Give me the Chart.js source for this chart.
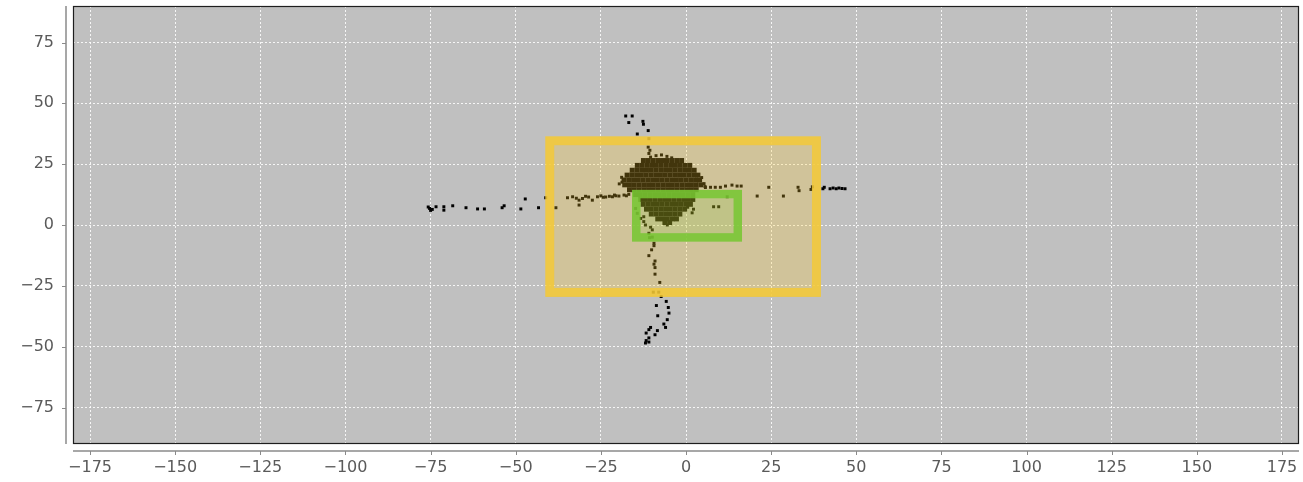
<!DOCTYPE html>
<html>
<head>
<meta charset="utf-8">
<script src="https://cdn.jsdelivr.net/npm/chart.js@4/dist/chart.umd.min.js"></script>
<style>
  html, body { margin: 0; padding: 0; background: #fff; }
  canvas { display: block; }
</style>
</head>
<body>
<canvas id="plot" width="1303" height="482"></canvas>
<script>
const xTicks = [-175, -150, -125, -100, -75, -50, -25, 0, 25, 50, 75, 100, 125, 150, 175];
const yTicks = [-75, -50, -25, 0, 25, 50, 75];
const xRange = [-180, 180];
const yRange = [-90, 90];

// dense cluster just above the origin, read row by row
const clusterPoints = [
  [-12.5, 26.5], [-11.1, 26.5], [-9.7, 26.5], [-8.3, 26.5], [-6.9, 26.5], [-5.5, 26.5], [-4.1, 26.5], [-2.7, 26.5], [-1.3, 26.5],
  [-14.3, 24.5], [-12.9, 24.5], [-11.5, 24.5], [-10.1, 24.5], [-8.7, 24.5], [-7.3, 24.5], [-5.9, 24.5], [-4.5, 24.5], [-3.1, 24.5], [-1.7, 24.5], [-0.3, 24.5], [1.1, 24.5],
  [-15.8, 22.5], [-14.4, 22.5], [-13.0, 22.5], [-11.6, 22.5], [-10.2, 22.5], [-8.8, 22.5], [-7.4, 22.5], [-6.0, 22.5], [-4.6, 22.5], [-3.2, 22.5], [-1.8, 22.5], [-0.4, 22.5], [1.0, 22.5], [2.4, 22.5],
  [-17.3, 20.5], [-15.9, 20.5], [-14.5, 20.5], [-13.1, 20.5], [-11.7, 20.5], [-10.3, 20.5], [-8.9, 20.5], [-7.5, 20.5], [-6.1, 20.5], [-4.7, 20.5], [-3.3, 20.5], [-1.9, 20.5], [-0.5, 20.5], [0.9, 20.5], [2.3, 20.5], [3.5, 20.5],
  [-18.2, 18.5], [-16.8, 18.5], [-15.4, 18.5], [-14.0, 18.5], [-12.6, 18.5], [-11.2, 18.5], [-9.8, 18.5], [-8.4, 18.5], [-7.0, 18.5], [-5.6, 18.5], [-4.2, 18.5], [-2.8, 18.5], [-1.4, 18.5], [0.0, 18.5], [1.4, 18.5], [2.8, 18.5], [4.0, 18.5],
  [-18.0, 16.5], [-16.6, 16.5], [-15.2, 16.5], [-13.8, 16.5], [-12.4, 16.5], [-11.0, 16.5], [-9.6, 16.5], [-8.2, 16.5], [-6.8, 16.5], [-5.4, 16.5], [-4.0, 16.5], [-2.6, 16.5], [-1.2, 16.5], [0.2, 16.5], [1.6, 16.5], [3.0, 16.5], [4.4, 16.5],
  [-16.6, 14.5], [-15.2, 14.5], [-13.8, 14.5], [-12.4, 14.5], [-11.0, 14.5], [-9.6, 14.5], [-8.2, 14.5], [-6.8, 14.5], [-5.4, 14.5], [-4.0, 14.5], [-2.6, 14.5], [-1.2, 14.5], [0.2, 14.5], [1.6, 14.5], [3.0, 14.5],
  [-14.8, 12.5], [-13.4, 12.5], [-12.0, 12.5], [-10.6, 12.5], [-9.2, 12.5], [-7.8, 12.5], [-6.4, 12.5], [-5.0, 12.5], [-3.6, 12.5], [-2.2, 12.5], [-0.8, 12.5], [0.6, 12.5], [2.0, 12.5],
  [-13.3, 10.5], [-11.9, 10.5], [-10.5, 10.5], [-9.1, 10.5], [-7.7, 10.5], [-6.3, 10.5], [-4.9, 10.5], [-3.5, 10.5], [-2.1, 10.5], [-0.7, 10.5], [0.7, 10.5], [2.0, 10.5],
  [-12.6, 8.5], [-11.2, 8.5], [-9.8, 8.5], [-8.4, 8.5], [-7.0, 8.5], [-5.6, 8.5], [-4.2, 8.5], [-2.8, 8.5], [-1.4, 8.5], [0.0, 8.5], [1.3, 8.5],
  [-11.6, 6.5], [-10.2, 6.5], [-8.8, 6.5], [-7.4, 6.5], [-6.0, 6.5], [-4.6, 6.5], [-3.2, 6.5], [-1.8, 6.5], [-0.4, 6.5],
  [-10.2, 4.5], [-8.8, 4.5], [-7.4, 4.5], [-6.0, 4.5], [-4.6, 4.5], [-3.2, 4.5], [-1.8, 4.5],
  [-8.3, 2.5], [-6.9, 2.5], [-5.5, 2.5], [-4.1, 2.5], [-2.8, 2.5],
  [-6.2, 1.0], [-4.8, 1.0]
];

// sparse track points around the cluster
const trackPoints = [
  // left arm
  [-75.7, 7.4], [-75.3, 6.8], [-74.5, 6.4], [-75.0, 6.0], [-73.4, 7.5], [-71.1, 7.5], [-71.1, 6.1], [-68.5, 7.9],
  [-64.6, 7.1], [-61.2, 6.6], [-59.2, 6.6], [-54.0, 7.1], [-53.4, 7.9], [-48.5, 6.6], [-47.2, 10.7], [-43.3, 7.1],
  [-41.2, 11.2], [-38.2, 7.1], [-34.8, 11.2], [-33.3, 11.6], [-32.2, 11.0], [-31.4, 10.2], [-30.4, 10.9], [-31.4, 8.2],
  [-29.5, 11.8], [-28.6, 11.5], [-27.5, 10.2], [-26.0, 11.6], [-25.0, 12.0], [-24.3, 11.4], [-23.6, 11.5], [-22.5, 11.8],
  [-21.6, 11.6], [-21.0, 12.3], [-20.6, 12.0], [-19.7, 11.9], [-18.2, 12.3], [-17.5, 12.0], [-16.8, 12.6],
  // upper arm
  [-17.7, 44.8], [-15.8, 44.8], [-16.8, 42.1], [-12.65, 42.6], [-12.5, 41.4], [-11.1, 38.8], [-14.3, 37.4],
  [-10.9, 35.5], [-11.1, 32.0], [-10.6, 30.7], [-10.9, 29.4], [-10.4, 27.9],
  // lower arm
  [-14.8, 6.8], [-14.3, 4.8], [-13.3, 2.7], [-12.4, 3.4], [-12.4, 1.4], [-11.9, 0.0], [-10.4, -0.9], [-9.9, -2.0],
  [-10.9, -3.4], [-9.9, -5.0], [-10.7, -5.2], [-9.4, -7.5], [-9.4, -8.5], [-10.1, -10.2], [-10.9, -12.6], [-9.1, -14.8],
  [-9.4, -16.1], [-9.1, -17.5], [-9.1, -20.2], [-7.7, -23.6], [-9.6, -27.6], [-8.0, -27.6], [-7.3, -29.4], [-5.8, -31.4],
  [-8.7, -33.1], [-5.2, -33.9], [-5.0, -36.2], [-8.3, -37.3], [-5.5, -38.9], [-6.5, -40.7], [-6.0, -42.1], [-10.4, -42.1],
  [-10.9, -43.0], [-8.4, -43.4], [-11.7, -44.4], [-9.1, -45.1], [-10.9, -46.4], [-11.7, -47.5], [-10.9, -48.1], [-11.9, -48.5],
  [-5.5, 0.0], [-4.6, 0.7], [0.5, 7.3], [1.8, 5.0], [2.2, 6.5],
  // right arm
  [5.7, 15.4], [7.2, 15.5], [8.6, 15.5], [10.1, 15.5], [11.6, 16.0], [13.5, 16.4], [15.0, 16.0], [16.2, 16.0],
  [12.1, 11.6], [20.9, 11.9], [24.3, 15.5], [28.6, 11.9], [32.9, 15.5], [33.2, 14.1], [36.7, 14.6], [37.1, 15.7],
  [40.2, 14.9], [40.6, 15.5], [42.3, 14.9], [43.2, 15.2], [44.1, 14.9], [44.9, 15.2], [45.8, 15.0], [46.7, 14.9],
  [8.1, 7.5], [9.6, 7.5],
  // ragged edge of the cluster
  [-8.8, 28.5], [-7.2, 28.8], [-5.6, 28.2], [-4.2, 27.6], [-18.8, 17.6], [-19.6, 16.9], [-18.9, 19.6],
  [5.3, 17.0], [5.6, 15.8], [4.6, 19.5]
];

// zones [min, max]
const outerZoneX = [-40, 38.3];
const outerZoneY = [-27.7, 34.6];
const innerZoneX = [-14.6, 15.2];
const innerZoneY = [-5.1, 12.7];

const AXIS_GAP = 7;

function drawZone(ctx, x, y, xs, ys, fill, stroke, lw) {
  const l = x.getPixelForValue(xs[0]), r = x.getPixelForValue(xs[1]);
  const t = y.getPixelForValue(ys[1]), b = y.getPixelForValue(ys[0]);
  const h = lw / 2;
  ctx.fillStyle = fill;
  ctx.fillRect(l + h, t + h, r - l - lw, b - t - lw);
  ctx.strokeStyle = stroke;
  ctx.lineWidth = lw;
  ctx.lineJoin = 'miter';
  ctx.strokeRect(l, t, r - l, b - t);
}

const plotFrame = {
  id: 'plotFrame',
  beforeDraw(chart) {
    const { ctx, chartArea: a } = chart;
    ctx.save();
    ctx.fillStyle = '#c0c0c0';
    ctx.fillRect(a.left, a.top, a.right - a.left, a.bottom - a.top);
    ctx.restore();
  },
  afterDatasetsDraw(chart) {
    const { ctx, chartArea: a, scales: { x, y } } = chart;
    ctx.save();
    ctx.beginPath();
    ctx.rect(a.left, a.top, a.right - a.left, a.bottom - a.top);
    ctx.clip();
    drawZone(ctx, x, y, outerZoneX, outerZoneY, 'rgba(255,206,48,0.26)', 'rgba(244,200,52,0.88)', 9);
    drawZone(ctx, x, y, innerZoneX, innerZoneY, 'rgba(110,200,40,0.16)', 'rgba(118,198,50,0.88)', 8.5);
    ctx.restore();
  },
  afterDraw(chart) {
    const { ctx, chartArea: a, scales: { x, y } } = chart;
    ctx.save();
    // plot outline
    ctx.strokeStyle = '#1e1e1e';
    ctx.lineWidth = 1.2;
    ctx.strokeRect(a.left + 0.5, a.top + 0.5, a.right - a.left - 1, a.bottom - a.top - 1);

    // detached axis lines with small outward ticks
    ctx.strokeStyle = '#8a8a8a';
    ctx.lineWidth = 1.5;
    const ax = a.left - AXIS_GAP;
    const ay = a.bottom + AXIS_GAP;
    ctx.beginPath();
    ctx.moveTo(ax, a.top);
    ctx.lineTo(ax, a.bottom);
    ctx.moveTo(a.left, ay);
    ctx.lineTo(a.right, ay);
    ctx.stroke();
    ctx.lineWidth = 1;
    ctx.beginPath();
    yTicks.forEach(v => {
      const py = Math.round(y.getPixelForValue(v)) + 0.5;
      ctx.moveTo(ax - 4, py);
      ctx.lineTo(ax, py);
    });
    xTicks.forEach(v => {
      const px = Math.round(x.getPixelForValue(v)) + 0.5;
      ctx.moveTo(px, ay);
      ctx.lineTo(px, ay + 4);
    });
    ctx.stroke();
    ctx.restore();
  }
};

const tickFont = { family: "'DejaVu Sans', sans-serif", size: 16 };
const fmt = v => (v < 0 ? '\u2212' + Math.abs(v) : String(v));

new Chart(document.getElementById('plot'), {
  type: 'scatter',
  data: {
    datasets: [
      {
        label: 'cluster',
        data: clusterPoints.map(([x, y]) => ({ x, y })),
        pointStyle: 'rect',
        pointRadius: 3.5,
        borderWidth: 0,
        backgroundColor: '#000'
      },
      {
        label: 'track',
        data: trackPoints.map(([x, y]) => ({ x, y })),
        pointStyle: 'rect',
        pointRadius: 2.1,
        borderWidth: 0,
        backgroundColor: '#000'
      }
    ]
  },
  options: {
    responsive: false,
    animation: false,
    layout: { padding: { top: 6, right: 2, bottom: 0, left: 0 } },
    plugins: {
      legend: { display: false },
      tooltip: { enabled: false }
    },
    scales: {
      x: {
        type: 'linear',
        min: xRange[0],
        max: xRange[1],
        afterBuildTicks: s => { s.ticks = xTicks.map(v => ({ value: v })); },
        afterFit: s => { s.height = 38; s.paddingLeft = 0; s.paddingRight = 0; },
        grid: { color: 'rgba(255,255,255,0.85)', lineWidth: 1, drawTicks: false },
        border: { display: false, dash: [2, 2] },
        ticks: { padding: 14, color: '#5a5a5a', font: tickFont, maxRotation: 0, autoSkip: false, callback: fmt }
      },
      y: {
        type: 'linear',
        min: yRange[0],
        max: yRange[1],
        afterBuildTicks: s => { s.ticks = yTicks.map(v => ({ value: v })); },
        afterFit: s => { s.width = 73; s.paddingTop = 0; s.paddingBottom = 0; },
        grid: { color: 'rgba(255,255,255,0.85)', lineWidth: 1, drawTicks: false },
        border: { display: false, dash: [2, 2] },
        ticks: { padding: 19, color: '#5a5a5a', font: tickFont, autoSkip: false, callback: fmt }
      }
    }
  },
  plugins: [plotFrame]
});
</script>
</body>
</html>
